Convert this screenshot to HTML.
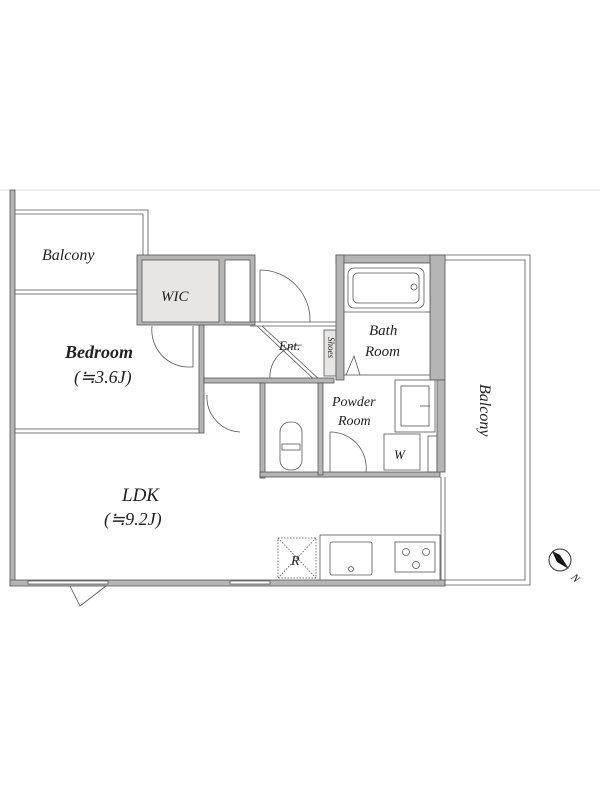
<!DOCTYPE html>
<html><head><meta charset="utf-8"><style>
html,body{margin:0;padding:0;background:#fff;width:600px;height:800px;overflow:hidden}
svg text{font-family:"Liberation Serif",serif;font-style:italic;fill:#222}
</style></head><body>
<svg width="600" height="800" viewBox="0 0 600 800" xmlns="http://www.w3.org/2000/svg">
<line x1="0" y1="190" x2="600" y2="190" stroke="#ddd" stroke-width="1"/>
<g stroke="#555" stroke-width="0.8">
<rect x="10" y="190" width="5" height="395" fill="#b5b5b5"/>
<polyline points="15,210 148,210 148,257" fill="none"/>
<polyline points="15,214 143,214 143,257" fill="none"/>
<rect x="15" y="290" width="122" height="4" fill="#fff"/>
<rect x="137" y="255" width="118" height="70" fill="#b5b5b5"/>
<rect x="142" y="260" width="77" height="62" fill="#e8e6e4"/>
<rect x="225" y="260" width="25" height="62" fill="#fff"/>
<line x1="250" y1="322" x2="345" y2="322"/>
<line x1="250" y1="326" x2="340" y2="326"/>
<rect x="199" y="325" width="5" height="108" fill="#b5b5b5"/>
<rect x="15" y="429" width="184" height="4" fill="#fff"/>
<path d="M152,326 A37,37 0 0 0 190,367 L193,367 L193,326" fill="none"/>
<path d="M260,270 A50,50 0 0 1 310,322" fill="none"/>
<line x1="260" y1="270" x2="260" y2="322"/>
<path d="M270,380 A32,32 0 0 1 302,345" fill="none"/>
<line x1="257" y1="326" x2="320" y2="385"/>
<line x1="262" y1="326" x2="322" y2="382"/>
<rect x="324" y="330" width="12" height="46" fill="#e8e6e4"/>
<rect x="204" y="378" width="130" height="5" fill="#b5b5b5"/>
<path d="M207,395 A35,35 0 0 0 240,432" fill="none"/>
<rect x="336" y="255" width="109" height="8" fill="#b5b5b5"/>
<rect x="336" y="255" width="8" height="125" fill="#b5b5b5"/>
<rect x="430" y="255" width="15" height="125" fill="#b5b5b5"/>
<rect x="344" y="263" width="86" height="112" fill="#fff"/>
<line x1="344" y1="312" x2="430" y2="312"/>
<rect x="348" y="268" width="76" height="40" rx="6" fill="none"/>
<rect x="353" y="273" width="66" height="30" rx="5" fill="none"/>
<circle cx="414" cy="287" r="3" fill="none"/>
<polyline points="346,375 354,356 360,375" fill="none"/>
<rect x="260" y="383" width="5" height="95" fill="#b5b5b5"/>
<rect x="260" y="472" width="180" height="5" fill="#b5b5b5"/>
<rect x="318" y="383" width="5" height="92" fill="#b5b5b5"/>
<rect x="280" y="422" width="22" height="48" rx="10" fill="none"/>
<rect x="282" y="444" width="18" height="6" fill="none"/>
<path d="M330,432 A36,36 0 0 1 366,472" fill="none"/>
<line x1="330" y1="432" x2="330" y2="472"/>
<rect x="395" y="380" width="40" height="52" fill="#fff"/>
<rect x="401" y="386" width="28" height="40" fill="none"/>
<line x1="420" y1="406" x2="430" y2="406"/>
<rect x="384" y="434" width="36" height="36" fill="none"/>
<rect x="428" y="436" width="9" height="36" fill="none"/>
<rect x="437" y="380" width="8" height="92" fill="#b5b5b5"/>
<line x1="441" y1="477" x2="441" y2="585"/>
<line x1="445" y1="477" x2="445" y2="585"/>
<polyline points="445,255 530,255 530,585 445,585" fill="none"/>
<polyline points="445,260 525,260 525,580 445,580" fill="none"/>
<rect x="320" y="535" width="120" height="46" fill="#fff"/>
<rect x="330" y="542" width="42" height="33" rx="2" fill="none"/>
<circle cx="351" cy="569" r="2.5" fill="none"/>
<rect x="395" y="542" width="40" height="30" fill="none"/>
<circle cx="406" cy="552" r="3.5" fill="none"/><circle cx="426" cy="552" r="3.5" fill="none"/><circle cx="416" cy="565" r="3.5" fill="none"/>
<g stroke-dasharray="1.5,1.5"><rect x="278" y="538" width="38" height="40" fill="none"/>
<line x1="278" y1="538" x2="316" y2="578"/><line x1="316" y1="538" x2="278" y2="578"/></g>
<rect x="10" y="580" width="435" height="6" fill="#b5b5b5"/>
<rect x="28" y="581" width="80" height="3" fill="#fff"/>
<rect x="230" y="581" width="40" height="3" fill="#fff"/>
<polyline points="70,586 80,606 106,586" fill="none"/>
</g>
<circle cx="560" cy="560" r="11" fill="#fff" stroke="#333"/>
<polygon points="552,551 569,569 557,562" fill="#111"/>
<polygon points="552,551 569,569 560,555" fill="#111"/>
<text x="572" y="582" font-size="11" transform="rotate(45 576 578)">N</text>
<text x="42" y="260" font-size="16">Balcony</text>
<text x="161" y="301" font-size="15">WIC</text>
<text x="65" y="358" font-size="18" font-weight="bold">Bedroom</text>
<text x="74" y="383" font-size="18">(≒3.6J)</text>
<text x="279" y="350" font-size="13">Ent.</text>
<text x="325" y="340" font-size="9" transform="rotate(90 328 340)">Shoes</text>
<text x="369" y="335" font-size="15">Bath</text>
<text x="365" y="356" font-size="15">Room</text>
<text x="332" y="406" font-size="14">Powder</text>
<text x="338" y="425" font-size="14">Room</text>
<text x="394" y="459" font-size="13">W</text>
<text x="469" y="385" font-size="16" transform="rotate(90 475 390)">Balcony</text>
<text x="122" y="501" font-size="19">LDK</text>
<text x="104" y="525" font-size="18">(≒9.2J)</text>
<text x="291" y="565" font-size="14">R</text>
</svg>
</body></html>
